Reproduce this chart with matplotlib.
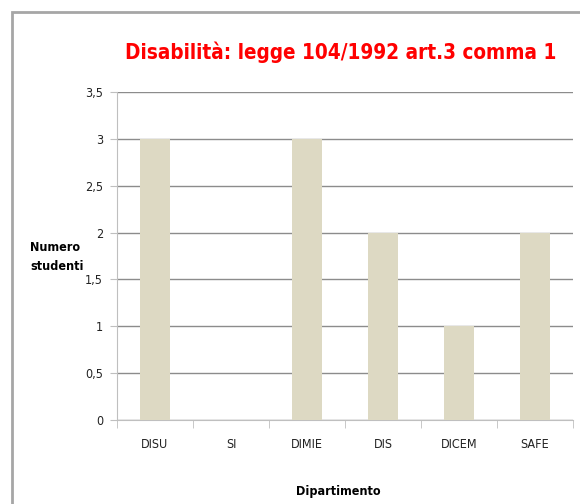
import matplotlib
matplotlib.use("Agg")
import matplotlib.pyplot as plt
from matplotlib.patches import Rectangle

categories = ["DISU", "SI", "DIMIE", "DIS", "DICEM", "SAFE"]
values = [3, 0, 3, 2, 1, 2]
yticks = [0, 0.5, 1, 1.5, 2, 2.5, 3, 3.5]
ytick_labels = ["0", "0,5", "1", "1,5", "2", "2,5", "3", "3,5"]

plt.rcParams['font.family'] = ['DejaVu Sans']
plt.rcParams['font.stretch'] = 'condensed'

W, H = 580, 504
fig = plt.figure(figsize=(W/100, H/100), dpi=100)
fig.patch.set_facecolor("white")

# frame
fig.add_artist(Rectangle((12/W, -0.1), 1.2, 1 - 12/H + 0.1, transform=fig.transFigure,
                         fill=False, edgecolor="#a6a6a6", linewidth=2))

ax = fig.add_axes([117/W, 1 - 420/H, (573-117)/W, (420-92)/H])
x = list(range(len(categories)))
ax.bar(x, values, width=0.4, color="#ddd9c3", zorder=3)
ax.set_xlim(-0.5, len(categories) - 0.5)
ax.set_ylim(0, 3.5)
ax.set_yticks(yticks)
ax.set_yticklabels(ytick_labels, fontsize=9, color="#222222")
ax.set_xticks(x)
ax.set_xticklabels(categories, fontsize=9, color="#222222")
ax.yaxis.grid(True, color="#8c8c8c", linewidth=1, zorder=0)
ax.set_axisbelow(True)
for s in ["top", "right"]:
    ax.spines[s].set_visible(False)
ax.spines["left"].set_color("#bfbfbf")
ax.spines["bottom"].set_color("#bfbfbf")
ax.tick_params(axis="y", length=5, color="#bfbfbf", pad=5)
ax.tick_params(axis="x", length=0, pad=13)
ax.set_xticks([i - 0.5 for i in range(len(categories) + 1)], minor=True)
ax.tick_params(axis="x", which="minor", length=6, color="#bfbfbf", direction="out")

title = fig.text(341/W, 1 - 52/H, "Disabilità: legge 104/1992 art.3 comma 1", color="#ff0000",
                 fontsize=20, fontweight="bold", ha="center", va="center")
fig.canvas.draw()
r = fig.canvas.get_renderer()
w = title.get_window_extent(r).width
title.set_fontsize(20 * 432 / w)

fig.text(30/W, 1 - 257/H, "Numero\nstudenti", fontsize=9, fontweight="bold",
         ha="left", va="center", linespacing=1.6)
fig.text(338/W, 1 - 492/H, "Dipartimento", fontsize=9, fontweight="bold",
         ha="center", va="center")

fig.savefig("out.png", dpi=100)
